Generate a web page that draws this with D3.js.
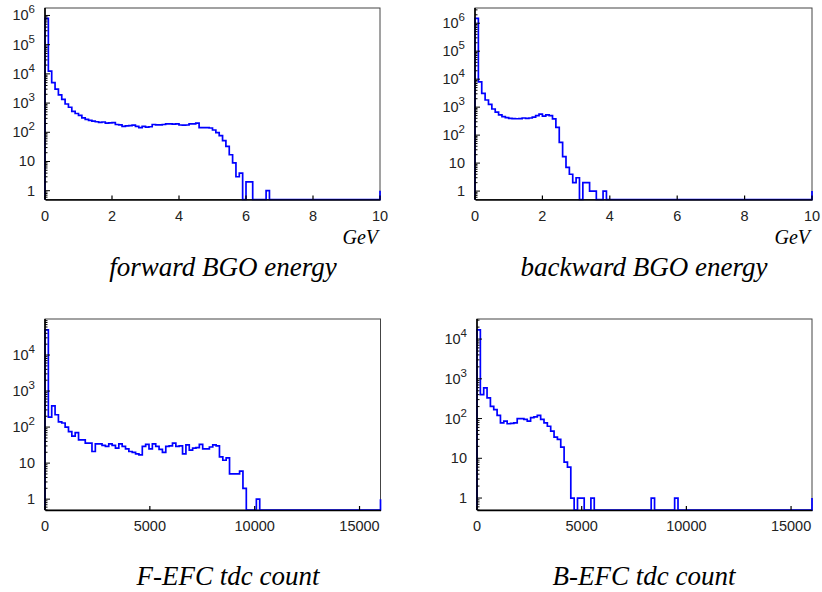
<!DOCTYPE html>
<html>
<head>
<meta charset="utf-8">
<script src="https://cdn.jsdelivr.net/npm/d3@7"></script>
<style>
  body { margin: 0; background: #fff; }
  svg { display: block; }
</style>
</head>
<body>
<svg class="canvas" width="822" height="592"></svg>
<script>
// bin contents, 100 bins per histogram (0 = empty bin)
const fwdBins = [
  800000, 12500, 5000, 3000, 1900, 1350, 930, 720, 520, 440,
  380, 310, 275, 255, 240, 230, 220, 225, 205, 210,
  215, 185, 180, 160, 165, 170, 175, 160, 145, 160,
  150, 155, 185, 180, 180, 185, 195, 195, 190, 195,
  178, 175, 178, 195, 195, 205, 145, 145, 145, 140,
  120, 98, 77, 52, 33, 17, 9, 3, 4, 0,
  2, 2, 0, 0, 0, 0, 1, 0, 0, 0,
  0, 0, 0, 0, 0, 0, 0, 0, 0, 0,
  0, 0, 0, 0, 0, 0, 0, 0, 0, 0,
  0, 0, 0, 0, 0, 0, 0, 0, 0, 0
];
const bwdBins = [
  1500000, 8000, 3100, 1800, 1250, 860, 660, 530, 460, 420,
  400, 390, 385, 390, 410, 400, 410, 440, 500, 560,
  480, 530, 500, 380, 190, 55, 17, 7, 4, 2,
  3, 0, 2, 2, 1, 1, 0, 0, 1, 0,
  0, 0, 0, 0, 0, 0, 0, 0, 0, 0,
  0, 0, 0, 0, 0, 0, 0, 0, 0, 0,
  0, 0, 0, 0, 0, 0, 0, 0, 0, 0,
  0, 0, 0, 0, 0, 0, 0, 0, 0, 0,
  0, 0, 0, 0, 0, 0, 0, 0, 0, 0,
  0, 0, 0, 0, 0, 0, 0, 0, 0, 0
];
const fefcBins = [
  50000, 190, 390, 220, 140, 130, 100, 75, 56, 70,
  44, 44, 36, 36, 21, 34, 34, 31, 29, 34,
  31, 26, 34, 29, 25, 21, 20, 18, 17, 29,
  33, 25, 34, 29, 24, 20, 29, 30, 36, 29,
  30, 18, 32, 23, 26, 27, 33, 25, 25, 28,
  32, 30, 15, 12, 14, 5, 5, 5, 6, 2,
  0, 0, 0, 1, 0, 0, 0, 0, 0, 0,
  0, 0, 0, 0, 0, 0, 0, 0, 0, 0,
  0, 0, 0, 0, 0, 0, 0, 0, 0, 0,
  0, 0, 0, 0, 0, 0, 0, 0, 0, 0
];
const befcBins = [
  17000, 400, 590, 330, 203, 167, 120, 78, 86, 74,
  76, 78, 100, 100, 95, 86, 105, 110, 120, 95,
  78, 64, 48, 34, 30, 19, 8, 6, 1, 0,
  1, 1, 0, 0, 1, 0, 0, 0, 0, 0,
  0, 0, 0, 0, 0, 0, 0, 0, 0, 0,
  0, 0, 1, 0, 0, 0, 0, 0, 0, 1,
  0, 0, 0, 0, 0, 0, 0, 0, 0, 0,
  0, 0, 0, 0, 0, 0, 0, 0, 0, 0,
  0, 0, 0, 0, 0, 0, 0, 0, 0, 0,
  0, 0, 0, 0, 0, 0, 0, 0, 0, 0
];

const energyTicks = [0, 2, 4, 6, 8, 10];
const tdcTicks = [0, 5000, 10000, 15000];
const titles = ["forward BGO energy", "backward BGO energy", "F-EFC tdc count", "B-EFC tdc count"];
const edgeLevel = 1; // closing line drawn at the right edge

const svg = d3.select(".canvas");

const panels = [
  { bins: fwdBins, xMax: 10, yMax: 1.8e6, xTicks: energyTicks, yTop: 6, unit: "GeV",
    left: 45, right: 380, top: 8, bottom: 199.5, titleX: 223, titleY: 276 },
  { bins: bwdBins, xMax: 10, yMax: 3.5e6, xTicks: energyTicks, yTop: 6, unit: "GeV",
    left: 475, right: 812, top: 8, bottom: 199.5, titleX: 644, titleY: 276 },
  { bins: fefcBins, xMax: 16000, yMax: 1e5, xTicks: tdcTicks, yTop: 4, unit: null,
    left: 45, right: 380.5, top: 319, bottom: 510, titleX: 228, titleY: 585 },
  { bins: befcBins, xMax: 16000, yMax: 3.2e4, xTicks: tdcTicks, yTop: 4, unit: null,
    left: 477, right: 812, top: 319, bottom: 510, titleX: 644, titleY: 585 }
];

panels.forEach((p, i) => {
  const yMin = 0.5;
  const g = svg.append("g");

  const xScale = d3.scaleLinear().domain([0, p.xMax]).range([p.left, p.right]);
  const yScale = d3.scaleLog().domain([yMin, p.yMax]).range([p.bottom, p.top]);

  // frame
  g.append("rect")
    .attr("x", p.left).attr("y", p.top)
    .attr("width", p.right - p.left).attr("height", p.bottom - p.top)
    .attr("fill", "none").attr("stroke", "#444").attr("stroke-width", 1);

  // histogram outline
  const w = p.xMax / p.bins.length;
  const pts = [[0, yMin]];
  p.bins.forEach((v, k) => pts.push([k * w, Math.max(v, yMin)]));
  pts.push([p.xMax, edgeLevel]);
  const line = d3.line()
    .x((d) => xScale(d[0]))
    .y((d) => yScale(d[1]))
    .curve(d3.curveStepAfter);
  g.append("path")
    .attr("d", line(pts))
    .attr("fill", "none")
    .attr("stroke", "#0000ff")
    .attr("stroke-width", 1.7);

  // x axis
  const xAxis = d3.axisBottom(xScale).tickValues(p.xTicks).tickSize(0).tickFormat("");
  g.append("g")
    .attr("transform", `translate(0, ${p.bottom})`)
    .call(xAxis)
    .call((a) => a.select(".domain").attr("stroke", "#000").attr("stroke-width", 1.6));
  g.selectAll(".xtick")
    .data(p.xTicks)
    .enter()
    .append("line")
    .attr("x1", (d) => xScale(d)).attr("x2", (d) => xScale(d))
    .attr("y1", p.bottom).attr("y2", p.bottom - 4)
    .attr("stroke", "#000").attr("stroke-width", 1.2);
  g.selectAll(".xlabel")
    .data(p.xTicks)
    .enter()
    .append("text")
    .attr("x", (d) => xScale(d))
    .attr("y", p.bottom + 21)
    .attr("text-anchor", "middle")
    .attr("font-family", "Liberation Sans, Arial, sans-serif")
    .attr("font-size", 14.5)
    .attr("fill", "#222")
    .text((d) => d);

  // y axis: major and minor log ticks
  g.append("line")
    .attr("x1", p.left).attr("x2", p.left)
    .attr("y1", p.top).attr("y2", p.bottom)
    .attr("stroke", "#000").attr("stroke-width", 1.6);
  const minor = [];
  for (let e = -1; e <= p.yTop; e++) {
    for (let m = 1; m <= 9; m++) {
      const v = m * Math.pow(10, e);
      if (v >= yMin && v <= p.yMax) minor.push({ v: v, major: m === 1 });
    }
  }
  g.selectAll(".ytick")
    .data(minor)
    .enter()
    .append("line")
    .attr("x1", p.left)
    .attr("x2", (d) => p.left + (d.major ? 5 : 2.5))
    .attr("y1", (d) => yScale(d.v)).attr("y2", (d) => yScale(d.v))
    .attr("stroke", "#000").attr("stroke-width", 1);

  const majors = d3.range(0, p.yTop + 1);
  const labels = g.selectAll(".ylabel")
    .data(majors)
    .enter()
    .append("text")
    .attr("x", p.left - 10)
    .attr("y", (e) => yScale(Math.pow(10, e)) + 5)
    .attr("text-anchor", "end")
    .attr("font-family", "Liberation Sans, Arial, sans-serif")
    .attr("font-size", 14.5)
    .attr("fill", "#222");
  labels.each(function (e) {
    const t = d3.select(this);
    if (e === 0) t.text("1");
    else if (e === 1) t.text("10");
    else {
      t.append("tspan").text("10");
      t.append("tspan").attr("dy", -7).attr("font-size", 11.5).text(e);
    }
  });

  // unit label
  if (p.unit) {
    g.append("text")
      .attr("x", p.right - 2)
      .attr("y", p.bottom + 44)
      .attr("text-anchor", "end")
      .attr("font-family", "Liberation Serif, Times New Roman, serif")
      .attr("font-style", "italic")
      .attr("font-size", 20)
      .text(p.unit);
  }

  // title
  g.append("text")
    .attr("x", p.titleX)
    .attr("y", p.titleY)
    .attr("text-anchor", "middle")
    .attr("font-family", "Liberation Serif, Times New Roman, serif")
    .attr("font-style", "italic")
    .attr("font-size", 27)
    .text(titles[i]);
});
</script>
</body>
</html>
